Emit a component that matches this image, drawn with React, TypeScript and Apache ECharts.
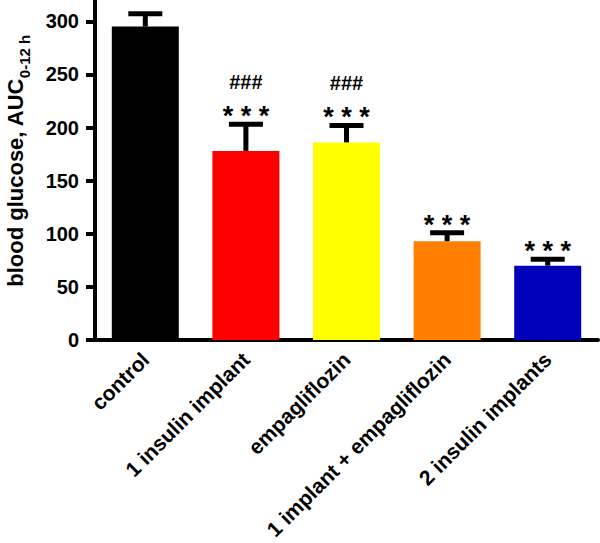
import React, { useEffect, useRef } from "react";
import * as echarts from "echarts";

const categories = [
  "control",
  "1 insulin implant",
  "empagliflozin",
  "1 implant + empagliflozin",
  "2 insulin implants",
];
const means = [295, 178, 186, 93, 70];
const errorTops = [307, 203, 202, 101, 76];
const starMarks = ["", "* * *", "* * *", "* * *", "* * *"];
const hashMarks = ["", "###", "###", "", ""];
const barColors = ["#000000", "#ff0000", "#ffff00", "#ff8000", "#0000bb"];
const yTicks = [0, 50, 100, 150, 200, 250, 300];

const FONT = "Liberation Sans, Arial, Helvetica, sans-serif";

export default function App() {
  const ref = useRef<HTMLDivElement>(null);

  useEffect(() => {
    if (!ref.current) return;
    const chart = echarts.init(ref.current, undefined, { renderer: "svg" });
    const option: any = {
      animation: false,
      backgroundColor: "#ffffff",
      grid: {
        left: 95,
        right: 2,
        top: 0,
        bottom: 203,
        containLabel: false,
        outerBoundsMode: "none",
      },
      xAxis: {
        type: "category",
        data: categories,
        axisLine: { lineStyle: { color: "#000", width: 4 } },
        axisTick: { alignWithLabel: true, length: 9, lineStyle: { color: "#000", width: 4 } },
        axisLabel: {
          interval: 0,
          rotate: 45,
          margin: 16,
          color: "#000",
          fontSize: 21,
          fontWeight: "bold",
          fontFamily: FONT,
        },
      },
      yAxis: {
        type: "value",
        min: 0,
        max: 320,
        splitLine: { show: false },
        axisLine: { show: true, lineStyle: { color: "#000", width: 4 } },
        axisTick: { show: true, length: 9, customValues: yTicks, lineStyle: { color: "#000", width: 4 } },
        axisLabel: {
          customValues: yTicks,
          margin: 16,
          color: "#000",
          fontSize: 20,
          fontWeight: "bold",
          fontFamily: FONT,
        },
        name: "{a|blood glucose, AUC}{b|0-12 h}",
        nameLocation: "middle",
        nameGap: 69,
        nameRotate: 90,
        nameTextStyle: {
          padding: [0, 0, 0, 18],
          rich: {
            a: { fontSize: 22, fontWeight: "bold", fontFamily: FONT, color: "#000", lineHeight: 26, verticalAlign: "bottom" },
            b: { fontSize: 15, fontWeight: "bold", fontFamily: FONT, color: "#000", lineHeight: 26, verticalAlign: "bottom", padding: [0, 0, -6, 0] },
          },
        },
      },
      series: [
        {
          type: "bar",
          barWidth: 67,
          data: means.map((v, i) => ({ value: v, itemStyle: { color: barColors[i] } })),
        },
        {
          type: "custom",
          data: categories.map((_, i) => [i, means[i], errorTops[i]]),
          z: 5,
          renderItem: (params: any, api: any) => {
            const i = api.value(0);
            const idx = params.dataIndex;
            const base = api.coord([i, api.value(1)]);
            const tp = api.coord([i, api.value(2)]);
            const capHalf = 17;
            const children: any[] = [
              { type: "line", shape: { x1: base[0], y1: base[1], x2: tp[0], y2: tp[1] }, style: { stroke: "#000", lineWidth: 5 } },
              { type: "line", shape: { x1: tp[0] - capHalf, y1: tp[1], x2: tp[0] + capHalf, y2: tp[1] }, style: { stroke: "#000", lineWidth: 5 } },
            ];
            if (starMarks[idx]) {
              children.push({
                type: "text",
                x: tp[0],
                y: tp[1] - 8,
                style: { text: starMarks[idx], fill: "#000", font: `bold 27px ${FONT}`, align: "center", verticalAlign: "middle" },
              });
            }
            if (hashMarks[idx]) {
              children.push({
                type: "text",
                x: tp[0],
                y: tp[1] - 42,
                style: { text: hashMarks[idx], fill: "#000", font: `bold 20px ${FONT}`, align: "center", verticalAlign: "middle" },
              });
            }
            return { type: "group", children };
          },
        },
      ],
    };
    chart.setOption(option);
    return () => chart.dispose();
  }, []);

  return (
    <div
      ref={ref}
      style={{ position: "absolute", left: 0, top: 0, width: 600, height: 543, background: "#fff" }}
    />
  );
}
